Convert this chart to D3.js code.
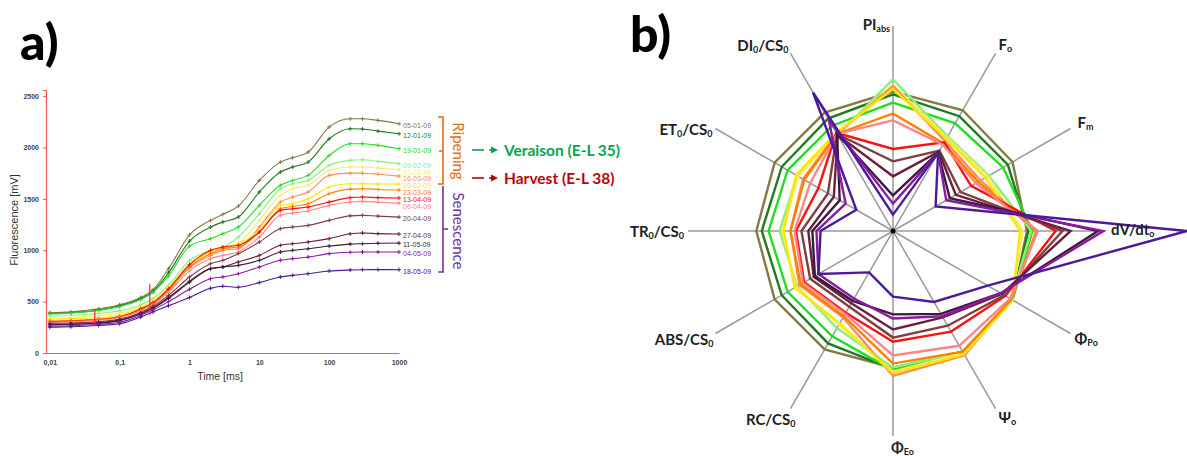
<!DOCTYPE html>
<html>
<head>
<meta charset="utf-8">
<script src="https://cdn.jsdelivr.net/npm/d3@7"></script>
<style>
  body { margin: 0; background: #fff; }
  svg { display: block; font-family: Lato, "Liberation Sans", sans-serif; }
</style>
</head>
<body>
<svg id="chart" width="1187" height="456"></svg>
<script>
// ---- panel a: OJIP transients (time in ms, fluorescence in mV)
const times = [0.01, 0.02, 0.05, 0.1, 0.2, 0.3, 0.5, 1, 2, 3, 5, 10, 20, 30, 50, 100, 200, 300, 500, 1000];
const dates = ["05-01-09", "12-01-09", "19-01-09", "09-02-09", "02-03-09", "16-03-09", "10-03-09", "23-03-09",
               "13-04-09", "06-04-09", "20-04-09", "27-04-09", "11-05-09", "04-05-09", "18-05-09"];
const f0501 = [392, 400, 430, 470, 540, 616, 820, 1150, 1291, 1350, 1430, 1680, 1858, 1901, 1956, 2199, 2280, 2280, 2264, 2231];
const f1201 = [385, 392, 420, 460, 530, 600, 780, 1090, 1226, 1275, 1323, 1567, 1761, 1810, 1858, 2085, 2183, 2180, 2160, 2134];
const f1901 = [380, 388, 415, 450, 520, 590, 750, 1040, 1113, 1161, 1226, 1437, 1632, 1680, 1729, 1923, 2037, 2037, 2021, 1988];
const f0902 = [360, 365, 385, 410, 470, 530, 660, 900, 999, 1031, 1129, 1356, 1599, 1648, 1680, 1826, 1875, 1881, 1865, 1842];
const f0203 = [340, 345, 365, 390, 450, 510, 640, 870, 967, 1015, 1064, 1291, 1534, 1599, 1632, 1777, 1810, 1810, 1800, 1784];
const f1603 = [310, 315, 330, 355, 420, 480, 610, 830, 950, 999, 1015, 1226, 1469, 1518, 1567, 1729, 1751, 1750, 1740, 1722];
const f1003 = [330, 335, 345, 370, 440, 500, 630, 860, 983, 1031, 1064, 1194, 1437, 1453, 1502, 1615, 1648, 1648, 1645, 1644];
const f2303 = [310, 315, 330, 355, 425, 485, 615, 840, 967, 1015, 1031, 1177, 1404, 1427, 1453, 1550, 1595, 1599, 1592, 1586];
const f1304 = [305, 310, 325, 350, 430, 490, 625, 860, 999, 1031, 1048, 1177, 1388, 1404, 1421, 1469, 1512, 1518, 1512, 1508];
const f0604 = [300, 305, 320, 345, 410, 470, 590, 800, 918, 950, 983, 1129, 1340, 1362, 1382, 1437, 1470, 1476, 1468, 1459];
const f2004 = [288, 292, 305, 330, 395, 455, 560, 740, 869, 902, 967, 1080, 1210, 1226, 1242, 1291, 1335, 1340, 1332, 1323];
const f2704 = [278, 282, 295, 320, 385, 440, 540, 700, 821, 837, 886, 950, 1048, 1064, 1080, 1113, 1160, 1168, 1162, 1158];
const f1105 = [272, 278, 290, 315, 380, 435, 530, 690, 821, 837, 853, 902, 983, 999, 1015, 1041, 1060, 1064, 1068, 1070];
const f0405 = [260, 265, 280, 300, 365, 420, 500, 620, 723, 740, 772, 837, 902, 918, 934, 967, 980, 983, 983, 983];
const f1805 = [250, 255, 268, 285, 350, 400, 460, 540, 630, 650, 640, 685, 740, 756, 772, 798, 808, 811, 812, 811];
const fluo = [f0501, f1201, f1901, f0902, f0203, f1603, f1003, f2303, f1304, f0604, f2004, f2704, f1105, f0405, f1805];

// red marks on the curves (time, low, high)
const markTimes = [0.044, 0.27];
const markLow = [270, 370];
const markHigh = [430, 670];

// ---- panel b: JIP-test parameters, relative to 05-01-09
const radarAxes = ["PIabs", "Fo", "Fm", "dV/dto", "ΦPo", "Ψo", "ΦEo", "RC/CS0", "ABS/CS0", "TR0/CS0", "ET0/CS0", "DI0/CS0"];
const r0501 = [1.02, 1.02, 1.01, 0.98, 1.01, 1.02, 1.00, 1.00, 1.00, 1.00, 1.00, 1.00];
const r1201 = [1.00, 0.97, 0.97, 0.99, 1.01, 1.02, 1.01, 0.95, 0.94, 0.96, 0.94, 0.95];
const r1901 = [0.94, 0.91, 0.93, 1.02, 1.01, 1.03, 1.02, 0.89, 0.89, 0.91, 0.89, 0.89];
const r0902 = [1.11, 0.80, 0.81, 1.01, 1.00, 1.02, 1.00, 0.82, 0.81, 0.83, 0.81, 0.81];
const r0203 = [1.07, 0.79, 0.80, 0.95, 1.00, 1.03, 1.03, 0.79, 0.82, 0.81, 0.80, 0.82];
const r1603 = [1.06, 0.76, 0.74, 1.05, 1.00, 1.05, 1.06, 0.73, 0.79, 0.75, 0.76, 0.82];
const r1003 = [1.04, 0.78, 0.78, 0.93, 1.01, 1.04, 1.04, 0.78, 0.83, 0.80, 0.82, 0.83];
const r2303 = [0.86, 0.74, 0.72, 1.05, 1.00, 1.02, 0.97, 0.72, 0.78, 0.75, 0.75, 0.82];
const r1304 = [0.60, 0.75, 0.66, 1.19, 0.95, 0.85, 0.81, 0.69, 0.75, 0.71, 0.63, 0.83];
const r0604 = [0.81, 0.73, 0.70, 1.06, 0.99, 0.97, 0.91, 0.70, 0.76, 0.72, 0.70, 0.82];
const r2004 = [0.51, 0.68, 0.57, 1.24, 0.94, 0.80, 0.78, 0.64, 0.70, 0.67, 0.55, 0.82];
const r2704 = [0.40, 0.67, 0.53, 1.30, 0.92, 0.73, 0.72, 0.61, 0.67, 0.62, 0.50, 0.81];
const r1105 = [0.26, 0.66, 0.48, 1.50, 0.91, 0.70, 0.61, 0.59, 0.66, 0.59, 0.45, 0.82];
const r0405 = [0.20, 0.66, 0.45, 1.54, 0.91, 0.72, 0.64, 0.57, 0.63, 0.56, 0.40, 0.94];
const r1805 = [0.12, 0.66, 0.36, 2.15, 0.80, 0.60, 0.48, 0.35, 0.63, 0.53, 0.31, 1.17];
const radar = [r0501, r1201, r1901, r0902, r0203, r1603, r1003, r2303, r1304, r0604, r2004, r2704, r1105, r0405, r1805];

const colors = ["#857a45", "#1f7a1f", "#22dd22", "#8cf07a", "#f2ec6a", "#ff8a5c", "#ffe800", "#ff8000",
                "#ff1010", "#ff8585", "#7e3f3f", "#6b1f3f", "#3c1a3e", "#8a1aa0", "#4b1a9c"];

const svg = d3.select("#chart");

// ================= panel a =================
svg.append("text").attr("x", 20).attr("y", 60)
  .style("font-size", "50px").style("font-weight", 900).text("a)");

const x = d3.scaleLog().domain([0.0088, 1000]).range([46, 399]);
const y = d3.scaleLinear().domain([0, 2560]).range([353, 90]);

const fmt = d => d < 1 ? String(d).replace(".", ",") : String(d);

const gx = svg.append("g").attr("transform", "translate(0,353)")
  .call(d3.axisBottom(x).tickValues([0.01, 0.1, 1, 10, 100, 1000]).tickFormat(fmt).tickSize(0).tickPadding(7));
const gy = svg.append("g").attr("transform", "translate(46,0)")
  .call(d3.axisLeft(y).tickValues([0, 500, 1000, 1500, 2000, 2500]).tickFormat(d3.format("d")).tickSize(3).tickPadding(4));
[gx, gy].forEach(g => {
  g.select(".domain").attr("stroke", "#f25a5a").attr("stroke-width", 1.2);
  g.selectAll(".tick line").attr("stroke", "#f25a5a");
  g.selectAll("text").style("font-family", "Liberation Sans, sans-serif")
    .style("font-size", "7px").style("font-weight", "bold").attr("fill", "#444");
});

svg.append("text").attr("x", 220).attr("y", 380).attr("text-anchor", "middle")
  .style("font-family", "Liberation Sans, sans-serif").style("font-size", "10.5px").attr("fill", "#333")
  .text("Time [ms]");
svg.append("text").attr("transform", "translate(18,220) rotate(-90)").attr("text-anchor", "middle")
  .style("font-family", "Liberation Sans, sans-serif").style("font-size", "11px").attr("fill", "#333")
  .text("Fluorescence [mV]");

const line = d3.line().x(d => x(d[0])).y(d => y(d[1])).curve(d3.curveMonotoneX);

const labelY = [];
fluo.forEach((vals, i) => {
  const pts = times.map((t, j) => [t, vals[j]]);
  const g = svg.append("g");
  g.append("path").attr("d", line(pts)).attr("fill", "none")
    .attr("stroke", colors[i]).attr("stroke-width", 1.1);
  g.selectAll("path.m").data(pts).enter().append("path").attr("class", "m")
    .attr("transform", d => `translate(${x(d[0])},${y(d[1])})`)
    .attr("d", "M-2,0H2M0,-2V2").attr("stroke", colors[i]).attr("stroke-width", 1);
  labelY.push({ i, y: y(vals[vals.length - 1]) + 1.5 });
});
// keep the end labels from piling up
labelY.sort((a, b) => a.y - b.y);
labelY.forEach((d, k) => { if (k > 0 && d.y < labelY[k - 1].y + 6.8) d.y = labelY[k - 1].y + 6.8; });
labelY.forEach(d => {
  svg.append("text").attr("x", 403).attr("y", d.y)
    .attr("dominant-baseline", "central")
    .style("font-family", "Liberation Sans, sans-serif").style("font-size", "7px")
    .attr("fill", colors[d.i]).text(dates[d.i]);
});

markTimes.forEach((t, i) => {
  svg.append("line").attr("x1", x(t)).attr("x2", x(t))
    .attr("y1", y(markLow[i])).attr("y2", y(markHigh[i]))
    .attr("stroke", "#ff2020").attr("stroke-width", 1.2);
});

// brackets
const ripeCol = "#e46c0a", senCol = "#7030a0";
svg.append("path").attr("d", "M438,117H443V184H438M443,151H439")
  .attr("fill", "none").attr("stroke", ripeCol).attr("stroke-width", 1.6);
svg.append("path").attr("d", "M443,186V272H438M443,229H448")
  .attr("fill", "none").attr("stroke", senCol).attr("stroke-width", 1.6);
svg.append("text").attr("transform", "translate(459,151) rotate(90)").attr("text-anchor", "middle")
  .attr("dominant-baseline", "central").style("font-size", "15px").attr("fill", ripeCol).text("Ripening");
svg.append("text").attr("transform", "translate(459,231) rotate(90)").attr("text-anchor", "middle")
  .attr("dominant-baseline", "central").style("font-size", "15px").attr("fill", senCol).text("Senescence");

function arrow(yy, col, label) {
  svg.append("line").attr("x1", 472).attr("x2", 484).attr("y1", yy).attr("y2", yy)
    .attr("stroke", col).attr("stroke-width", 1.6);
  svg.append("line").attr("x1", 489).attr("x2", 492).attr("y1", yy).attr("y2", yy)
    .attr("stroke", col).attr("stroke-width", 1.6);
  svg.append("path").attr("d", `M491,${yy - 3.5}L498,${yy}L491,${yy + 3.5}Z`).attr("fill", col);
  svg.append("text").attr("x", 504).attr("y", yy).attr("dominant-baseline", "central")
    .style("font-size", "15.5px").style("font-weight", "bold").attr("fill", col).text(label);
}
arrow(150, "#00a650", "Veraison (E-L 35)");
arrow(178, "#c00000", "Harvest (E-L 38)");

// ================= panel b =================
svg.append("text").attr("x", 630).attr("y", 52)
  .style("font-size", "50px").style("font-weight", 900).text("b)");

const cx = 893, cy = 231, R = 205;
const rs = d3.scaleLinear().domain([0, 1.5]).range([0, R]);
const ang = i => i * Math.PI / 6;

const gb = svg.append("g").attr("transform", `translate(${cx},${cy})`);
radarAxes.forEach((a, i) => {
  gb.append("line").attr("x1", 0).attr("y1", 0)
    .attr("x2", R * Math.sin(ang(i))).attr("y2", -R * Math.cos(ang(i)))
    .attr("stroke", "#9a9a9a").attr("stroke-width", 1.5);
});

const rline = d3.lineRadial().angle((d, i) => ang(i)).radius(d => rs(d)).curve(d3.curveLinearClosed);
radar.forEach((vals, i) => {
  gb.append("path").attr("d", rline(vals)).attr("fill", "none")
    .attr("stroke", colors[i]).attr("stroke-width", 2.4).attr("stroke-linejoin", "miter");
});
gb.append("circle").attr("r", 2.5).attr("fill", "#000");

// axis labels: [text, subscript] pieces
const labelParts = [
  [["PI", 0], ["abs", 1]],
  [["F", 0], ["o", 1]],
  [["F", 0], ["m", 1]],
  [["dV/dt", 0], ["o", 1]],
  [["Φ", 0], ["Po", 1]],
  [["Ψ", 0], ["o", 1]],
  [["Φ", 0], ["Eo", 1]],
  [["RC/CS", 0], ["0", 1]],
  [["ABS/CS", 0], ["0", 1]],
  [["TR", 0], ["0", 1], ["/CS", 0], ["0", 1]],
  [["ET", 0], ["0", 1], ["/CS", 0], ["0", 1]],
  [["DI", 0], ["0", 1], ["/CS", 0], ["0", 1]]
];
const labelOff = [[-3, 4, "end"], [3, -3, "start"], [7, -1, "start"], [13, 4, "start"],
                  [4, 10, "start"], [3, 14, "start"], [-2, 17, "start"], [5, 16, "end"],
                  [-2, 11, "end"], [-4, 6, "end"], [-3, 6, "end"], [-2, -2, "end"]];

labelParts.forEach((parts, i) => {
  const ex = R * Math.sin(ang(i)), ey = -R * Math.cos(ang(i));
  const t = gb.append("text").attr("x", ex + labelOff[i][0]).attr("y", ey + labelOff[i][1])
    .attr("text-anchor", labelOff[i][2]).style("font-size", "15px").style("font-weight", "bold")
    .attr("fill", "#222");
  parts.forEach(p => {
    const s = t.append("tspan").text(p[0]);
    if (p[1]) s.style("font-size", "9px").attr("dy", 2);
    else if (t.selectAll("tspan").size() > 1) s.attr("dy", -2);
  });
});
</script>
</body>
</html>
